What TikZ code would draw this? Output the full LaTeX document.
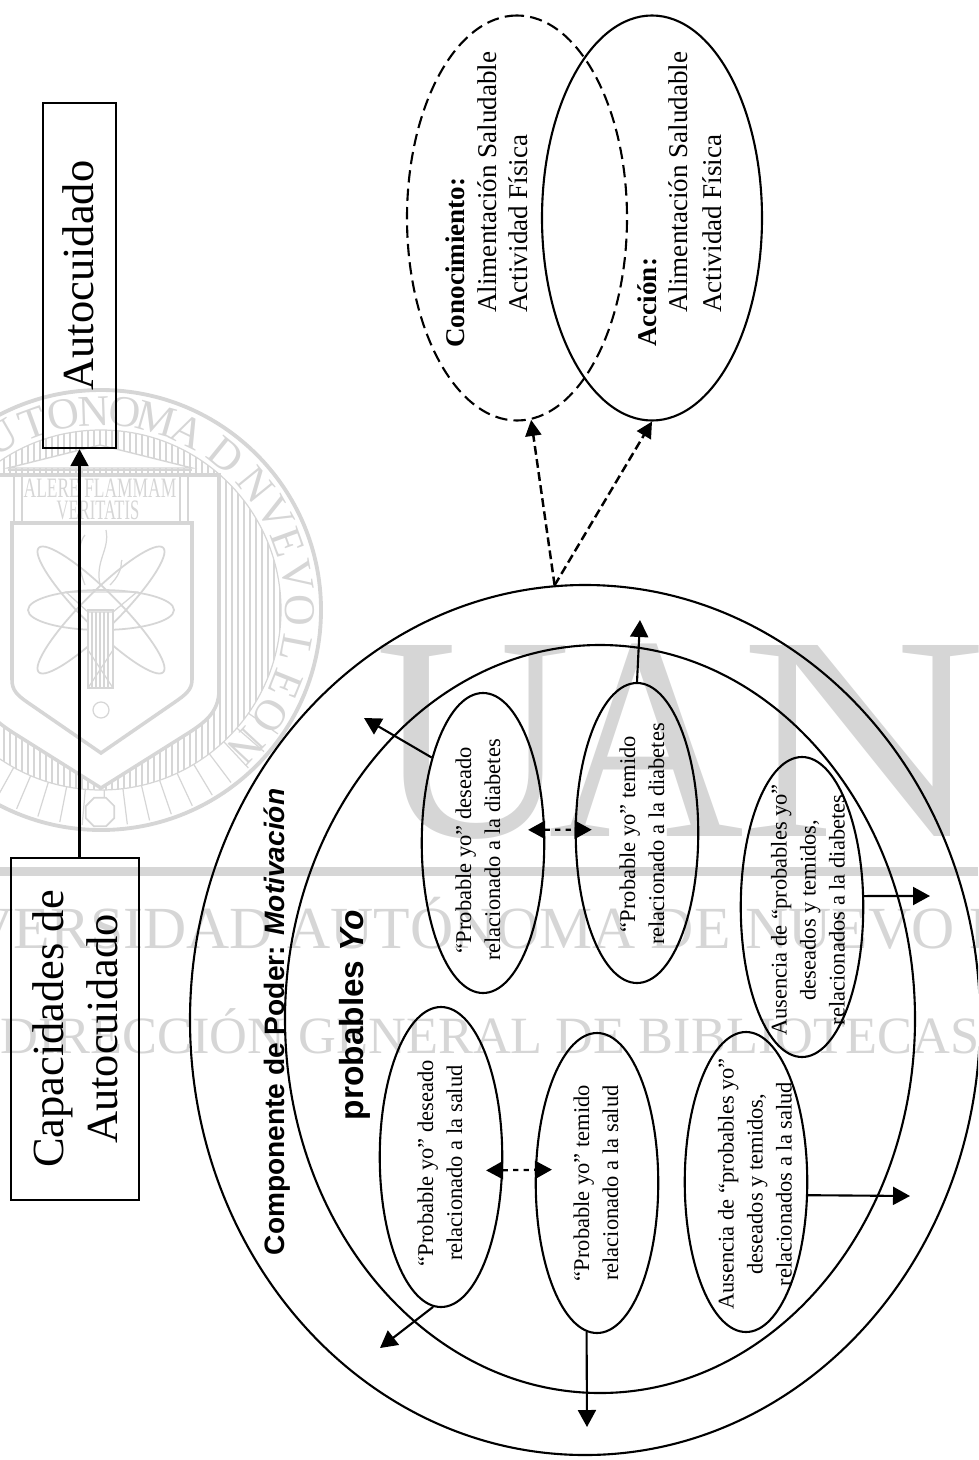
\documentclass[tikz,border=0pt]{standalone}
\usepackage{fontspec}
\usepackage{xcolor}
\setmainfont{Liberation Serif}
\setsansfont{Liberation Sans}
\usetikzlibrary{arrows.meta,positioning,shapes.geometric,calc}
\definecolor{wmark}{gray}{0.84}

\begin{document}
\begin{tikzpicture}[x=0.2mm,y=-0.2mm,
    stamp/.style={wmark,line width=0.7pt},
    thinline/.style={line width=1.2pt},
    bubble/.style={draw,ellipse,rotate=90,inner sep=0pt,thinline,minimum width=6cm,minimum height=2.45cm},
    venn/.style={draw,ellipse,rotate=90,inner sep=0pt,thinline,minimum width=8.1cm,minimum height=4.4cm},
    bubbletext/.style={rotate=90,align=center,inner sep=0pt,font=\fontsize{12.8}{16.5}\selectfont},
    venntext/.style={rotate=90,anchor=west,inner sep=0pt,font=\fontsize{15.4}{18}\selectfont},
    arr/.style={thinline,-{Triangle[length=3.4mm,width=3.6mm]}},
    duo/.style={line width=1.3pt,dashed,{Triangle[length=3.4mm,width=3.6mm]}-{Triangle[length=3.4mm,width=3.6mm]},shorten <=-3.4mm,shorten >=-3.4mm},
    dasharr/.style={line width=1.4pt,dash pattern=on 5pt off 2.5pt,-{Triangle[length=3.2mm,width=3.2mm]}}]

    \useasboundingbox (0,0) rectangle (978,1460);
    \clip (0,0) rectangle (978,1460);

    % Watermark letters
    \fill[wmark] (0,867) rectangle (978,876);
    \node[wmark,anchor=base west,inner sep=0pt,xscale=.93,font=\fontsize{166}{166}\selectfont] (bigU) at (375,836) {U};
    \node[wmark,anchor=base west,inner sep=0pt,xscale=.93,font=\fontsize{166}{166}\selectfont] (bigA) at (548,836) {A};
    \node[wmark,anchor=base west,inner sep=0pt,xscale=1.17,font=\fontsize{166}{166}\selectfont] (bigN) at (740,836) {N};
    \node[wmark,anchor=base west,inner sep=0pt,font=\fontsize{34}{34}\selectfont] (uniName) at (-136,948) {UNIVERSIDAD AUTÓNOMA DE NUEVO LEÓN};
    \node[wmark,anchor=base west,inner sep=0pt,font=\fontsize{29.8}{30}\selectfont] (libName) at (0,1053) {DIRECCIÓN GENERAL DE BIBLIOTECAS};

    % Watermark crest
    \begin{scope}
        \clip (101,610) circle (180);
        \foreach \xx in {-80,-74,...,285} \draw[stamp] (\xx,420) -- (\xx,800);
    \end{scope}
    \draw[wmark,line width=2.2pt] (101,610) circle (220);
    \draw[stamp] (101,610) circle (180);
    \foreach \aa in {125,131,...,235} \draw[stamp] ({101+180*sin(\aa)},{610-180*cos(\aa)}) -- ({101+216*sin(\aa)},{610-216*cos(\aa)});
    \foreach \ch/\aa in {A/-41,U/-30,T/-20,O/-11,N/-2,O/7,M/16,A/26,D/39,N/51,V/61,E/70,V/80,O/90,L/101,E/112,O/122,N/133}
        \node[wmark,rotate=-\aa,inner sep=0pt,font=\fontsize{25}{25}\selectfont] at ({101+199*sin(\aa)},{610-199*cos(\aa)}) {\ch};
    \draw[wmark,line width=2pt,fill=white] (-17,475) -- (219,475) -- (219,690) .. controls (219,712) and (205,722) .. (190,732) -- (101,788) -- (12,732) .. controls (-3,722) and (-17,712) .. (-17,690) -- cycle;
    \draw[wmark,line width=2pt] (12,523) -- (192,523) -- (192,680) .. controls (192,690) and (185,695) .. (175,702) -- (101,753) -- (27,702) .. controls (17,695) and (12,690) .. (12,680) -- cycle;
    \draw[wmark,fill=white,line width=0.8pt] (8,468) -- (100,445) -- (192,468) -- cycle;
    \draw[wmark,line width=1.6pt] (8,470) -- (192,470);
    \foreach \xx in {14,22,180,188} \draw[stamp] (\xx,477) -- (\xx,521);
    \node[wmark,inner sep=0pt,xscale=.62,font=\fontsize{16}{16}\selectfont] (motto) at (100,488) {ALERE FLAMMAM};
    \node[wmark,inner sep=0pt,xscale=.59,font=\fontsize{16}{16}\selectfont] (mottoTwo) at (98,510) {VERITATIS};
    \draw[wmark,line width=1pt] (101,610) ellipse (73 and 20);
    \draw[wmark,line width=1pt,rotate around={45:(101,610)}] (101,610) ellipse (88 and 18);
    \draw[wmark,line width=1pt,rotate around={-45:(101,610)}] (101,610) ellipse (88 and 18);
    \draw[stamp,fill=white] (88,610) rectangle (113,688);
    \foreach \xx in {92,96,...,110} \draw[stamp] (\xx,612) -- (\xx,688);
    \draw[stamp] (66,592) -- (137,592) -- (113,612) -- (88,612) -- cycle;
    \draw[stamp] (88,650) -- (113,688) (113,650) -- (88,688);
    \draw[stamp] (85,585) .. controls (75,560) and (80,540) .. (85,535) (100,585) .. controls (95,560) and (110,550) .. (106,530) (110,585) .. controls (125,570) and (120,560) .. (122,560);
    \draw[stamp] (101,710) circle (8);
    \node[draw=wmark,fill=white,regular polygon,regular polygon sides=8,line width=1pt,minimum size=.62cm,inner sep=0pt] (seal) at (100,812) {};

    % Boxes
    \node[draw,rotate=90,line width=1.4pt,minimum width=6.9cm,minimum height=1.46cm,inner sep=0pt,font=\fontsize{25.3}{30}\selectfont,text height=16pt,text depth=0pt] (autoBox) at (79.5,275.5) {Autocuidado};
    \node[draw,rotate=90,line width=1.2pt,minimum width=6.84cm,minimum height=2.56cm,inner sep=0pt,align=center,font=\fontsize{25.3}{30.5}\selectfont] (capBox) at (75,1029) {Capacidades de\\Autocuidado};
    \draw[arr] (autoBox.west |- capBox.east) -- (autoBox.west);

    % Outer rings
    \node[draw,ellipse,thinline,minimum width=15.8cm,minimum height=17.4cm,inner sep=0pt] (outerRing) at (585,1020) {};
    \node[draw,ellipse,thinline,minimum width=12.6cm,minimum height=14.96cm,inner sep=0pt] (innerRing) at (600,1019) {};
    \node[rotate=90,inner sep=0pt,font=\fontsize{16}{18}\selectfont\sffamily\bfseries] (powerTitle) at (277,1022) {Componente de Poder: \textit{Motivación}};
    \node[rotate=90,inner sep=0pt,font=\fontsize{19}{22}\selectfont\sffamily\bfseries] (probTitle) at (355,1015) {probables \textit{Yo}};

    % Selves: diabetes
    \node[bubble] (desDiab) at (483,843) {};
    \node[bubble] (temDiab) at (637,833) {};
    \node[bubble] (ausDiab) at (802,907) {};
    \node[bubbletext] (desDiabText) at (478,850) {“Probable yo” deseado\\relacionado a la diabetes};
    \node[bubbletext] (temDiabText) at (642,834) {“Probable yo” temido\\relacionado a la diabetes};
    \node[bubbletext] (ausDiabText) at (808,910) {Ausencia de “probables yo”\\deseados y temidos,\\relacionados a la diabetes};

    % Selves: salud
    \node[bubble] (desSal) at (441,1157) {};
    \node[bubble] (temSal) at (597,1183) {};
    \node[bubble] (ausSal) at (746,1182) {};
    \node[bubbletext] (desSalText) at (440,1163) {“Probable yo” deseado\\relacionado a la salud};
    \node[bubbletext] (temSalText) at (596,1183) {“Probable yo” temido\\relacionado a la salud};
    \node[bubbletext] (ausSalText) at (755,1184) {Ausencia de “probables yo”\\deseados y temidos,\\relacionados a la salud};

    % Knowledge and action
    \node[venn,dash pattern=on 7pt off 3.5pt] (knowledge) at (517,218) {};
    \node[venn] (action) at (652,218) {};
    \node[venntext] (knowHead) at (455,348) {\textbf{Conocimiento:}};
    \node[venntext] (knowFood) at (487,313) {Alimentación Saludable};
    \node[venntext] (knowMove) at (518,313) {Actividad Física};
    \node[venntext] (actHead) at (647,347) {\textbf{Acción:}};
    \node[venntext] (actFood) at (678,313) {Alimentación Saludable};
    \node[venntext] (actMove) at (712,313) {Actividad Física};

    % Free ends
    \coordinate (tipDes) at (364,718);
    \coordinate (tipTem) at (640,620);
    \coordinate (tipAus) at (930,896);
    \coordinate (tipSalDes) at (380,1348);
    \coordinate (tipSalTem) at (587,1427);
    \coordinate (tipSalAus) at (910,1196);

    % Arrows
    \draw[arr] (desDiab.31) -- (tipDes);
    \draw[arr] (temDiab.0) -- (tipTem);
    \draw[arr] (ausDiab.-80) -- (tipAus);
    \draw[arr] (desSal.177) -- (tipSalDes);
    \draw[arr] (temSal.176) -- (tipSalTem);
    \draw[arr] (ausSal.-102) -- (tipSalAus);
    \draw[duo] (desDiab.-78) -- (temDiab.87);
    \draw[duo] (desSal.-102) -- (temSal.78);
    \draw[dasharr] (outerRing.94) -- (knowledge.184);
    \draw[dasharr] (outerRing.94) -- (action.180);
\end{tikzpicture}
\end{document}
